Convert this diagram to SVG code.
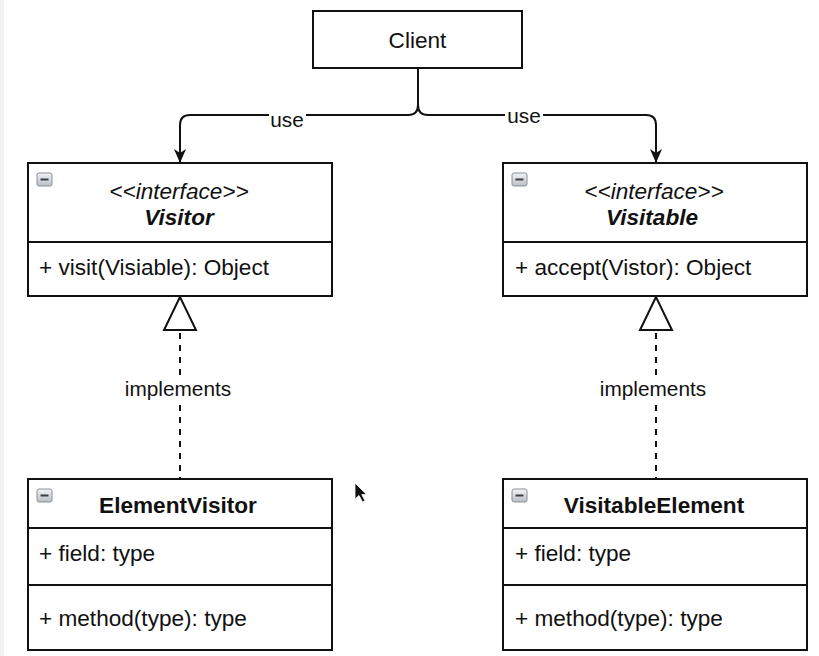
<svg xmlns="http://www.w3.org/2000/svg" width="819" height="656" viewBox="0 0 819 656">
<defs>
<linearGradient id="ig" x1="0" y1="0" x2="0" y2="1">
<stop offset="0" stop-color="#f2f4f7"/>
<stop offset="1" stop-color="#b9bec6"/>
</linearGradient>
<marker id="arr" viewBox="0 0 12 14" refX="6" refY="14" markerWidth="12" markerHeight="14" markerUnits="userSpaceOnUse" orient="0">
<path d="M0,0 L6,4 L12,0 L6,14 Z" fill="#111"/>
</marker>
<g id="icon">
<rect x="0" y="0" width="15" height="13" rx="2" fill="url(#ig)" stroke="#8a8f96" stroke-width="1"/>
<line x1="3.5" y1="6.5" x2="11.5" y2="6.5" stroke="#3a3d42" stroke-width="2"/>
</g>
</defs>
<style>
.box{fill:#fff;stroke:#111;stroke-width:2}
.div{stroke:#111;stroke-width:2}
.t{font-family:"Liberation Sans",Arial,Helvetica,sans-serif;font-size:22.6px;fill:#111}
.c{text-anchor:middle}
.b{font-weight:bold}
.i{font-style:italic}
.lbl{font-family:"Liberation Sans",Arial,Helvetica,sans-serif;font-size:20.8px;fill:#111;text-anchor:middle}
.line{fill:none;stroke:#111;stroke-width:2}
.dash{fill:none;stroke:#111;stroke-width:2;stroke-dasharray:6 6}
.tri{fill:#fff;stroke:#111;stroke-width:2;stroke-linejoin:miter}
</style>
<rect x="0" y="0" width="819" height="656" fill="#fff"/>
<rect x="0" y="0" width="4" height="656" fill="#f1f1f1"/>

<g id="connectors">
<path class="line" d="M418,68 V105 Q418,115 408,115 H190 Q180,115 180,125 V163" marker-end="url(#arr)"/>
<path class="line" d="M418,68 V105 Q418,115 428,115 H646 Q656,115 656,125 V163" marker-end="url(#arr)"/>
<rect x="269" y="110" width="37" height="14" fill="#fff"/>
<text class="lbl" x="287" y="127">use</text>
<rect x="505" y="105" width="38" height="14" fill="#fff"/>
<text class="lbl" x="524" y="123">use</text>

<line class="dash" x1="180" y1="333" x2="180" y2="479"/>
<polygon class="tri" points="180,297 164,330 196,330"/>
<rect x="122" y="378" width="112" height="22" fill="#fff"/>
<text class="lbl" x="178" y="396">implements</text>

<line class="dash" x1="656" y1="333" x2="656" y2="479"/>
<polygon class="tri" points="656,297 640,330 672,330"/>
<rect x="597" y="378" width="112" height="22" fill="#fff"/>
<text class="lbl" x="653" y="396">implements</text>
</g>

<g id="client">
<rect class="box" x="313" y="11" width="209" height="57"/>
<text class="t c" x="417.5" y="48">Client</text>
</g>

<g id="visitor">
<rect class="box" x="28" y="163" width="304" height="133"/>
<line class="div" x1="28" y1="242" x2="332" y2="242"/>
<use href="#icon" x="37" y="173"/>
<text class="t c i" x="179" y="199">&lt;&lt;interface&gt;&gt;</text>
<text class="t c i b" x="179" y="225">Visitor</text>
<text class="t" x="39" y="275">+ visit(Visiable): Object</text>
</g>

<g id="visitable">
<rect class="box" x="503" y="163" width="304" height="133"/>
<line class="div" x1="503" y1="242" x2="807" y2="242"/>
<use href="#icon" x="512" y="173"/>
<text class="t c i" x="654" y="199">&lt;&lt;interface&gt;&gt;</text>
<text class="t c i b" x="652" y="225">Visitable</text>
<text class="t" x="515" y="275">+ accept(Vistor): Object</text>
</g>

<g id="elementvisitor">
<rect class="box" x="28" y="479" width="304" height="171"/>
<line class="div" x1="28" y1="528" x2="332" y2="528"/>
<line class="div" x1="28" y1="585" x2="332" y2="585"/>
<use href="#icon" x="37" y="489"/>
<text class="t c b" x="178" y="513">ElementVisitor</text>
<text class="t" x="39" y="561">+ field: type</text>
<text class="t" x="39" y="626">+ method(type): type</text>
</g>

<g id="visitableelement">
<rect class="box" x="503" y="479" width="304" height="171"/>
<line class="div" x1="503" y1="528" x2="807" y2="528"/>
<line class="div" x1="503" y1="585" x2="807" y2="585"/>
<use href="#icon" x="512" y="489"/>
<text class="t c b" x="654" y="513">VisitableElement</text>
<text class="t" x="515" y="561">+ field: type</text>
<text class="t" x="515" y="626">+ method(type): type</text>
</g>

<path d="M355,483 L355,499 L359,495.5 L362.5,502 L365,500.8 L361.8,494.5 L366.5,494.5 Z" fill="#111" stroke="#fff" stroke-width="0.8"/>
</svg>
